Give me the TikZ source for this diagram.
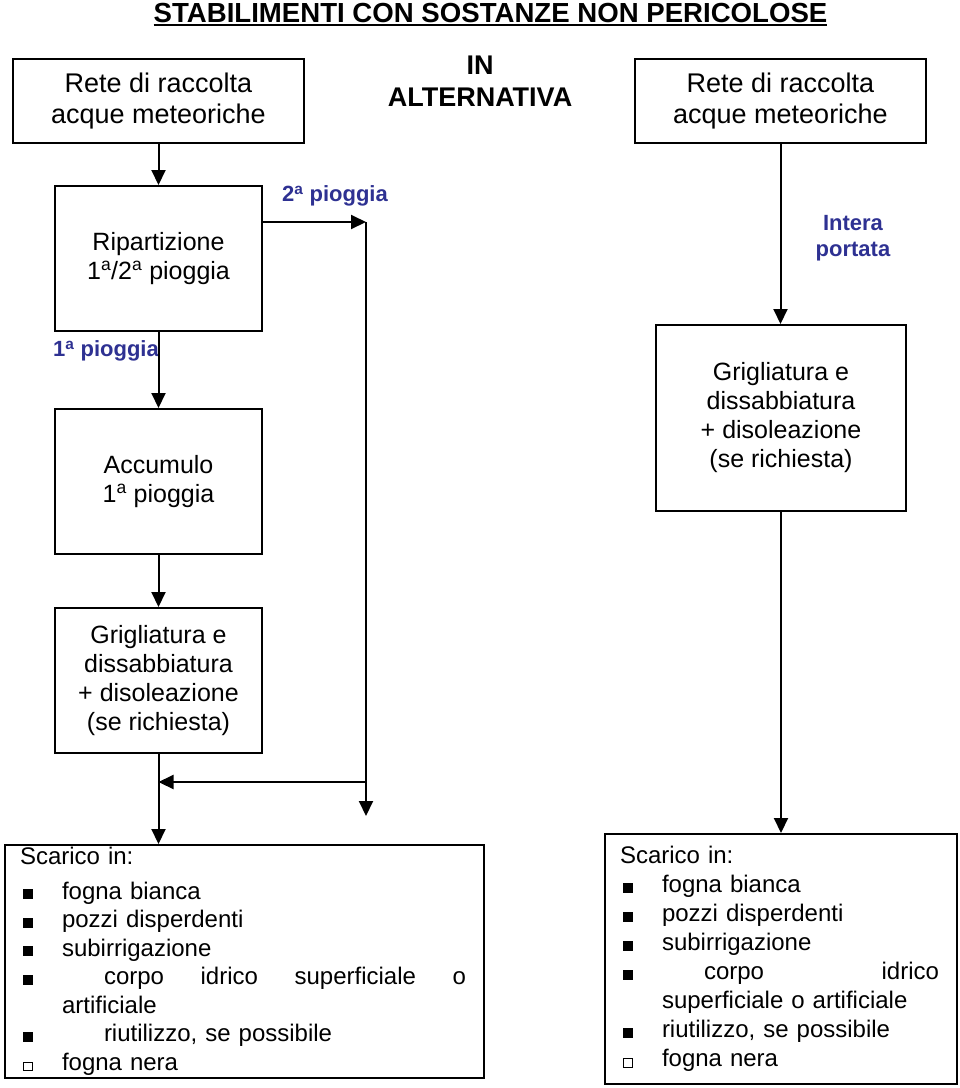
\documentclass[tikz,border=0pt]{standalone}
\usepackage{fontspec}
\setmainfont{Liberation Sans}
\usepackage{tikz}
\usetikzlibrary{positioning, arrows.meta}
\definecolor{labelblue}{RGB}{46,49,146}
\newcommand{\ulbox}[1]{\setbox0=\hbox{#1}\rlap{\rule[-4pt]{\wd0}{1.8pt}}\box0}
\newcommand{\fullsq}{\hspace*{3pt}\rule{10pt}{10pt}}
\newcommand{\emptysq}{\hspace*{3pt}{\setlength{\fboxsep}{0pt}\setlength{\fboxrule}{0.8pt}\fbox{\rule{0pt}{8pt}\rule{8pt}{0pt}}}}
\newcommand{\itm}[2][\fullsq]{\makebox[42pt][l]{#1}#2}
\tikzstyle{source} = [rectangle, draw=black, line width=2pt, minimum width=291pt, minimum height=84pt, align=center, font=\fontsize{27}{31}\selectfont]
\tikzstyle{process} = [rectangle, draw=black, line width=2pt, minimum width=207pt, minimum height=145pt, align=center, font=\fontsize{25}{29}\selectfont]
\tikzstyle{outlet} = [rectangle, draw=black, line width=2pt, align=left, inner xsep=15pt, inner ysep=0pt, font=\fontsize{24}{28.5}\selectfont]
\tikzstyle{tag} = [text=labelblue, font=\bfseries\fontsize{22}{26}\selectfont, align=center, inner sep=0pt]
\tikzstyle{arrow} = [line width=2pt, -{Triangle[length=15pt,width=14pt]}]

\begin{document}
\begin{tikzpicture}[x=1pt, y=-1pt]
        \useasboundingbox (0,0) rectangle (960,1088);
        \node (title) [anchor=base, font=\bfseries\fontsize{27.6}{32}\selectfont] at (490.5,22) {\ulbox{STABILIMENTI CON SOSTANZE NON PERICOLOSE}};
        \node (reteL) [source] at (158.5,101) {Rete di raccolta\\acque meteoriche};
        \node (reteR) [source, right of=reteL, node distance=622pt] {Rete di raccolta\\acque meteoriche};
        \node (alt) [font=\bfseries\fontsize{27}{32}\selectfont, align=center] at (480,81) {IN\\ALTERNATIVA};
        \node (rip) [process, below of=reteL, node distance=157.5pt] {Ripartizione\\1\textsuperscript{a}/2\textsuperscript{a} pioggia};
        \node (acc) [process, below of=rip, node distance=223pt] {Accumulo\\1\textsuperscript{a} pioggia};
        \node (grigL) [process, below of=acc, node distance=199pt] {Grigliatura e\\dissabbiatura\\+ disoleazione\\(se richiesta)};
        \node (grigR) [process, minimum width=250pt, minimum height=186pt] at (781,418) {Grigliatura e\\dissabbiatura\\+ disoleazione\\(se richiesta)};
        \node (scarL) [outlet, text width=449pt, minimum height=233pt] at (244.5,961.5) {Scarico in:\\[6pt]
            \itm{fogna bianca}\\
            \itm{pozzi disperdenti}\\
            \itm{subirrigazione}\\
            \itm{\hbox to 404pt{\hspace{42pt}corpo\hfill idrico\hfill superficiale\hfill o}}\\
            \hspace*{42pt}artificiale\\
            \itm{\hspace*{42pt}riutilizzo, se possibile}\\
            \itm[\emptysq]{fogna nera}};
        \node (scarR) [outlet, text width=322pt, minimum height=250pt, font=\fontsize{24}{29}\selectfont] at (781,959) {Scarico in:\\
            \itm{fogna bianca}\\
            \itm{pozzi disperdenti}\\
            \itm{subirrigazione}\\
            \itm{\hbox to 277pt{\hspace{42pt}corpo\hfill idrico}}\\
            \hspace*{42pt}superficiale o artificiale\\
            \itm{riutilizzo, se possibile}\\
            \itm[\emptysq]{fogna nera}};
        \node (tag2) [tag] at (335,196) {2\textsuperscript{a} pioggia};
        \node (tag1) [tag, anchor=west] at (53,351) {1\textsuperscript{a} pioggia};
        \node (tagR) [tag] at (853,238) {Intera\\portata};
        \coordinate (split) at (366,222);
        \coordinate (drop) at (366,816);
        \coordinate (join) at (366,782);
        \draw [arrow] (reteL) -- (rip);
        \draw [arrow] (rip) -- (acc);
        \draw [arrow] (acc) -- (grigL);
        \draw [arrow] (rip.east |- split) -- (split);
        \draw [arrow] (split) -- (drop);
        \draw [arrow] (join) -- (join -| grigL.south);
        \draw [arrow] (grigL.south) -- (grigL.south |- scarL.north);
        \draw [arrow] (reteR.south) -- (reteR.south |- grigR.north);
        \draw [arrow] (grigR) -- (scarR);
    \end{tikzpicture}
\end{document}
